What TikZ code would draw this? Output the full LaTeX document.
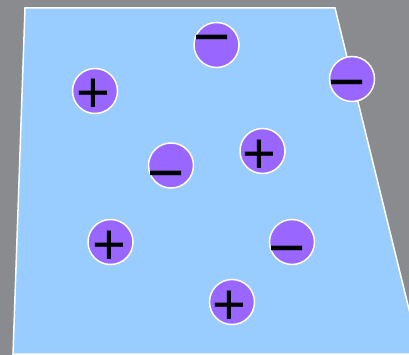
\documentclass[tikz,border=0pt]{standalone}
\usepackage{fontspec}
\usepackage{graphicx}
\setmainfont{Liberation Sans}
\definecolor{bgray}{RGB}{137,139,142}
\definecolor{sheet}{RGB}{153,204,255}
\definecolor{charge}{RGB}{153,102,255}
\newcommand{\negmark}{\scalebox{1}[1.2]{–}}
\tikzset{
  ion/.style={circle, fill=charge, draw=white, line width=1.5pt, minimum size=45pt, inner sep=0pt},
  possign/.style={anchor=base, inner sep=0pt, font=\fontsize{58}{58}\selectfont},
  negsign/.style={anchor=base, inner sep=0pt, font=\fontsize{56}{56}\selectfont},
}
\begin{document}
\begin{tikzpicture}[x=1pt, y=-1pt]
\useasboundingbox (0,0) rectangle (409,355);
\clip (0,0) rectangle (409,355);
\fill[bgray] (0,0) rectangle (409,355);
\filldraw[fill=sheet, draw=white, line width=1.5pt]
  (25,8) -- (335,8) -- (347.6,59.6) -- (420,354) -- (13,354) -- cycle;
% ions
\node[ion] (c1) at (216.5,45) {};
\node[ion] (c2) at (95,91) {};
\node[ion] (c3) at (352,79) {};
\node[ion] (c4) at (171,165.5) {};
\node[ion] (c5) at (262.5,151) {};
\node[ion] (c6) at (110.5,242) {};
\node[ion] (c7) at (292,242) {};
\node[ion] (c8) at (232,302) {};
% signs (base anchor placed below glyph centre)
\node[negsign] (s1) at (212,38+16.7) {\negmark};
\node[possign] (s2) at (93,91.5+20.6) {+};
\node[negsign] (s3) at (347.5,83+16.7) {\negmark};
\node[negsign] (s4) at (166.5,174+16.7) {\negmark};
\node[possign] (s5) at (259.5,152.5+20.6) {+};
\node[possign] (s6) at (109,243.5+20.6) {+};
\node[negsign] (s7) at (287.5,249+16.7) {\negmark};
\node[possign] (s8) at (229.5,304+20.6) {+};
\end{tikzpicture}
\end{document}
